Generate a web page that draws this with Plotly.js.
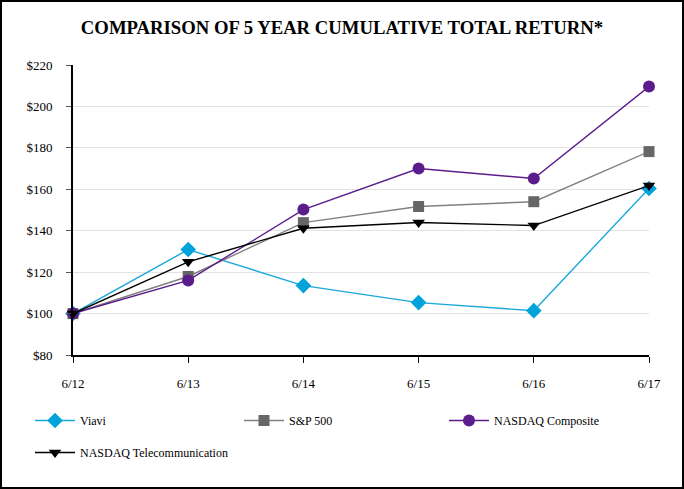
<!DOCTYPE html>
<html>
<head>
<meta charset="utf-8">
<script src="https://cdn.plot.ly/plotly-3.0.1.min.js"></script>
<style>html,body{margin:0;padding:0;background:#fff;} #chart{width:684px;height:489px;}</style>
</head>
<body>
<div id="chart"></div>
<script>
const categories = ["6/12", "6/13", "6/14", "6/15", "6/16", "6/17"];
const viavi = [100, 130.9, 113.5, 105.3, 101.4, 160.4];
const sp500 = [100, 117.9, 143.9, 151.7, 154.0, 178.2];
const nasdaqComposite = [100, 116.0, 150.2, 170.0, 165.2, 209.6];
const nasdaqTelecom = [100, 125.0, 141.2, 144.0, 142.5, 161.8];
const yTicks = [80, 100, 120, 140, 160, 180, 200, 220];
const yTickLabels = yTicks.map(v => "$" + v);

const xIdx = categories.map((c, i) => i);

function series(name, y, color, lineColor, symbol, size, legendId) {
  return {
    type: "scatter", mode: "lines+markers", name: name,
    x: xIdx, y: y,
    line: {color: lineColor, width: 1.4},
    marker: {color: color, symbol: symbol, size: size, line: {width: 0}},
    cliponaxis: false, legend: legendId
  };
}

const traces = [
  series("Viavi", viavi, "#00A3DA", "#1AA8DA", "diamond", 12, "legend"),
  series("S&P 500", sp500, "#666666", "#808080", "square", 11, "legend2"),
  series("NASDAQ Composite", nasdaqComposite, "#5B1C8C", "#5B1C8C", "circle", 12, "legend3"),
  series("NASDAQ Telecommunication", nasdaqTelecom, "#000000", "#000000", "triangle-down", 11, "legend4")
];

const L = 73, R = 35, T = 65, B = 134, W = 684, H = 489;
const pw = W - L - R, ph = H - T - B;
const font = '"Liberation Serif", "Times New Roman", serif';

function leg(px, py) {
  return {
    orientation: "h", x: (px - L) / pw, xanchor: "left",
    y: -(py - (T + ph)) / ph, yanchor: "top",
    font: {family: font, size: 12, color: "#000"},
    itemwidth: 40,
    bgcolor: "rgba(0,0,0,0)", borderwidth: 0
  };
}

const layout = {
  width: W, height: H,
  margin: {l: L, r: R, t: T, b: B},
  paper_bgcolor: "#fff", plot_bgcolor: "#fff",
  font: {family: font, size: 12, color: "#000"},
  title: {text: "<b>COMPARISON OF 5 YEAR CUMULATIVE TOTAL RETURN*</b>",
          font: {family: font, size: 18.7, color: "#000"},
          x: 0.5, xanchor: "center", y: 1 - 27 / H, yanchor: "middle"},
  xaxis: {
    range: [0, 5], tickvals: xIdx, ticktext: categories,
    showgrid: false, zeroline: false,
    showline: true, linecolor: "#000", linewidth: 2,
    ticks: "outside", ticklen: 6, tickcolor: "#000", tickwidth: 1,
    tickfont: {family: font, size: 13}, ticklabelstandoff: 9
  },
  yaxis: {
    range: [80, 220], tickvals: yTicks, ticktext: yTickLabels,
    showgrid: true, gridcolor: "#E3E3E3", gridwidth: 1, zeroline: false,
    showline: true, linecolor: "#000", linewidth: 2,
    ticks: "outside", ticklen: 5, tickcolor: "#555", tickwidth: 1,
    tickfont: {family: font, size: 13}, ticklabelstandoff: 11
  },
  showlegend: true,
  legend: leg(30, 406),
  legend2: leg(239, 406),
  legend3: leg(444, 406),
  legend4: leg(30, 438),
  shapes: [{
    type: "rect", xref: "paper", yref: "paper",
    x0: (1 - L) / pw, x1: (W - 1 - L) / pw,
    y0: -(H - 1 - T - ph) / ph, y1: 1 + (T - 1) / ph,
    line: {color: "#000", width: 2}, fillcolor: "rgba(0,0,0,0)", layer: "below"
  }]
};

Plotly.newPlot("chart", traces, layout, {displayModeBar: false, staticPlot: true});
</script>
</body>
</html>
